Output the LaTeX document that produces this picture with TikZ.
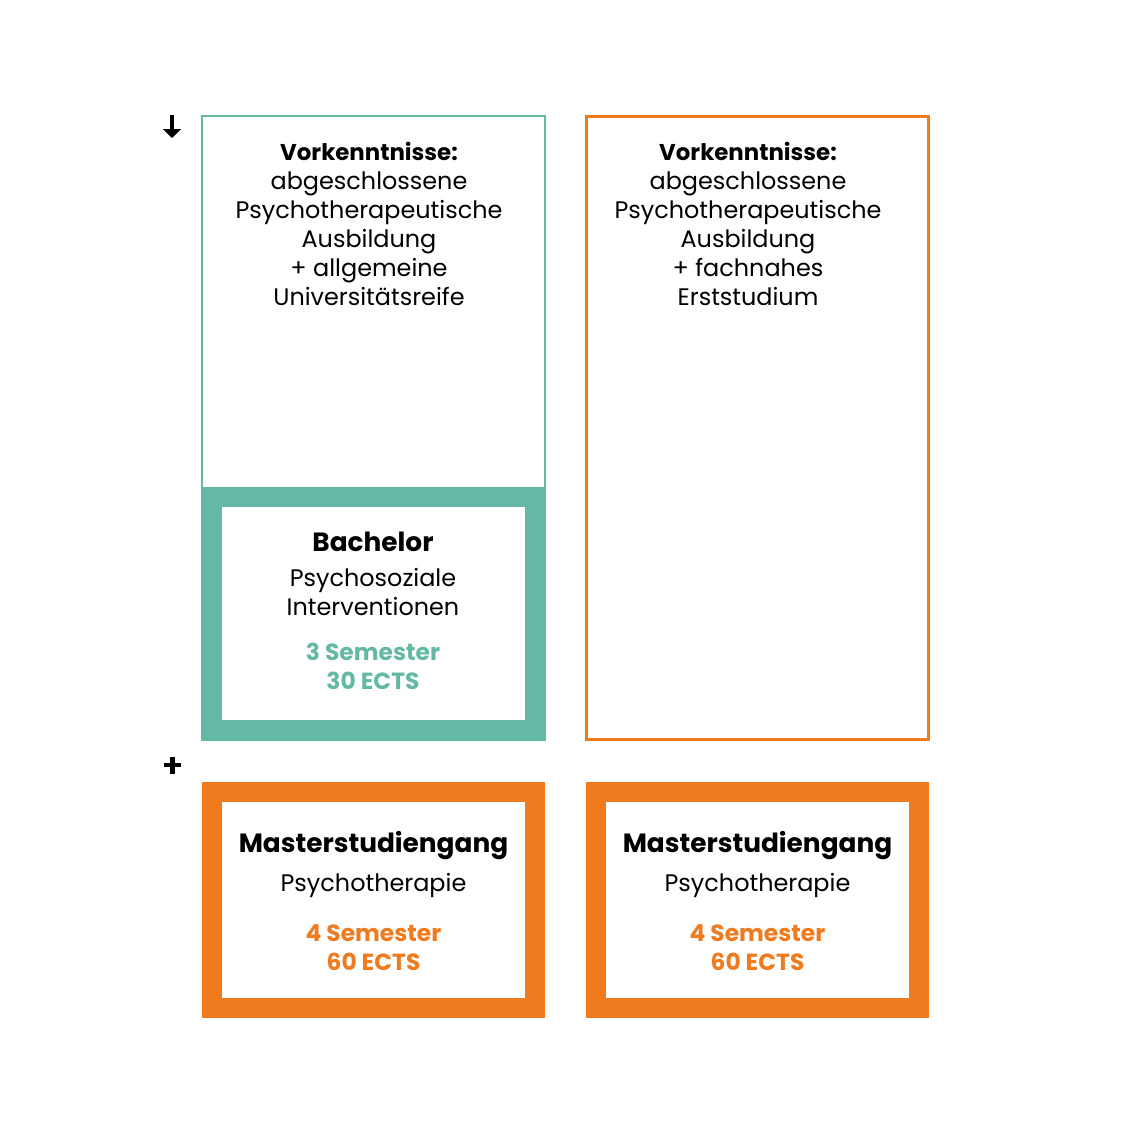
\documentclass[tikz,border=0pt]{standalone}
\usepackage{fontspec}
\setmainfont{Poppins}
\usetikzlibrary{positioning,arrows.meta}
\definecolor{bagreen}{HTML}{64B9A4}
\definecolor{maorange}{HTML}{F07B1E}
\tikzset{
  txt/.style={align=center,inner sep=0pt,font=\fontsize{6.8}{8.25}\selectfont},
  head/.style={align=center,inner sep=0pt,font=\fontsize{7.5}{9}\selectfont\bfseries},
  facts/.style={align=center,inner sep=0pt,font=\fontsize{6.65}{8.25}\selectfont\bfseries},
  frame/.style={draw=#1,fill=white,line width=0.2cm,minimum width=0.01cm*323,inner sep=0pt},
}
\begin{document}
\begin{tikzpicture}[x=0.01cm,y=-0.01cm]
\useasboundingbox (0,0) rectangle (1133,1133);
% top boxes
\draw[bagreen,line width=0.015cm] (202,116) rectangle (545,740);
\draw[maorange,line width=0.025cm] (586.5,116.5) rectangle (928.5,739.5);
\node[txt] (preA) at (369,224) {{\fontsize{6.5}{8.25}\selectfont\textbf{Vorkenntnisse:}}\\abgeschlossene\\Psychotherapeutische\\Ausbildung\\+ allgemeine\\Universitätsreife};
\node[txt] (preB) at (748,224) {{\fontsize{6.5}{8.25}\selectfont\textbf{Vorkenntnisse:}}\\abgeschlossene\\Psychotherapeutische\\Ausbildung\\+ fachnahes\\Erststudium};
% bachelor
\node[frame=bagreen,minimum height=0.01cm*233] (bach) at (373.5,613.5) {};
\node[head] (bachT) at (373,542) {Bachelor};
\node[txt] (bachS) at (373,592) {Psychosoziale\\Interventionen};
\node[facts,text=bagreen] (bachF) at (373,666) {3 Semester\\30 ECTS};
% master
\foreach \x/\n in {373.5/mA,757.5/mB}{
  \node[frame=maorange,minimum height=0.01cm*216] (\n) at (\x,900) {};
  \node[head] (\n T) at (\x,846) {Masterstudiengang};
  \node[txt] (\n S) at (\x,885) {Psychotherapie};
  \node[facts,text=maorange] (\n F) at (\x,948) {4 Semester\\60 ECTS};
}
% signs
\draw[line width=0.045cm,-{Triangle[length=0.09cm,width=0.18cm]}] (172,115) -- (172,138);
\draw[line width=0.045cm] (164,765) -- (181,765) (172.5,756.5) -- (172.5,773.5);
\end{tikzpicture}
\end{document}
